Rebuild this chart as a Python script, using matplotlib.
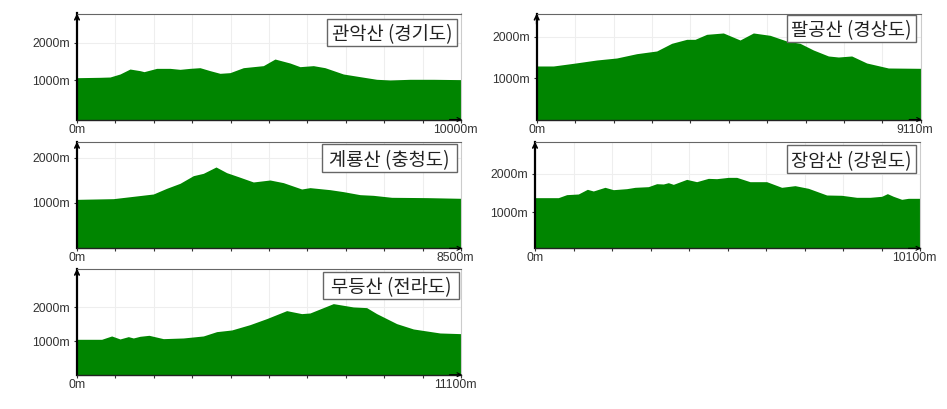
import numpy as np
import matplotlib
matplotlib.use('Agg')
import matplotlib.pyplot as plt
from matplotlib.patches import Rectangle
from matplotlib.transforms import ScaledTranslation

plt.rcParams['font.family'] = ['Liberation Sans', 'DejaVu Sans']

W, H = 947, 409

gwanak_x = [0, 599, 859, 1120, 1380, 1641, 1745, 2075, 2422, 2682, 2943, 3203, 3464, 3724, 3984, 4332,
            4852, 5156, 5547, 5807, 6155, 6458, 6936, 7370, 7804, 8151, 8672, 9280, 10000]
gwanak_y = [1070, 1080, 1088, 1168, 1300, 1257, 1230, 1318, 1318, 1292, 1318, 1336, 1257, 1186, 1204, 1336,
            1390, 1566, 1460, 1363, 1390, 1336, 1168, 1097, 1027, 1009, 1027, 1027, 1018]

palgong_x = [0, 395, 870, 1423, 1898, 2372, 2847, 3203, 3559, 3756, 4033, 4428, 4824, 5140, 5536, 5931,
             6247, 6564, 6920, 7157, 7473, 7829, 8343, 9110]
palgong_y = [1293, 1293, 1358, 1439, 1488, 1593, 1659, 1846, 1943, 1943, 2065, 2098, 1927, 2098, 2041, 1902,
             1846, 1683, 1537, 1512, 1537, 1366, 1244, 1236]

gyeryong_x = [0, 804, 1247, 1690, 1985, 2280, 2575, 2796, 3077, 3313, 3571, 3903, 4272, 4567, 4973, 5157,
              5600, 5895, 6264, 6559, 6965, 7739, 8500]
gyeryong_y = [1081, 1096, 1148, 1200, 1326, 1437, 1607, 1659, 1800, 1674, 1585, 1467, 1511, 1452, 1311, 1341,
              1296, 1252, 1185, 1170, 1126, 1119, 1104]

jangam_x = [0, 612, 831, 1137, 1373, 1530, 1836, 2055, 2405, 2624, 2973, 3192, 3367, 3498, 3629, 3979, 4241,
            4547, 4766, 5072, 5291, 5640, 6078, 6471, 6821, 7171, 7652, 8045, 8439, 8789, 9095, 9244, 9401,
            9620, 9794, 10100]
jangam_y = [1379, 1379, 1457, 1474, 1595, 1552, 1647, 1586, 1612, 1647, 1664, 1741, 1733, 1767, 1724, 1853, 1793,
            1879, 1871, 1905, 1905, 1793, 1793, 1647, 1690, 1621, 1448, 1440, 1388, 1388, 1414, 1483, 1414,
            1336, 1362, 1362]

mudeung_x = [0, 713, 1002, 1243, 1484, 1628, 1821, 2081, 2495, 3074, 3652, 4037, 4471, 5000, 5482, 6060,
             6494, 6735, 7409, 7987, 8373, 8662, 9240, 9722, 10107, 10492, 11100]
mudeung_y = [1059, 1059, 1157, 1069, 1137, 1098, 1147, 1176, 1078, 1098, 1157, 1284, 1333, 1490, 1667, 1902,
             1814, 1833, 2108, 2010, 1990, 1814, 1520, 1363, 1304, 1245, 1225]

titles = ['관악산 (경기도)', '팔공산 (경상도)', '계룡산 (충청도)', '장암산 (강원도)', '무등산 (전라도)']
series_x = [gwanak_x, palgong_x, gyeryong_x, jangam_x, mudeung_x]
series_y = [gwanak_y, palgong_y, gyeryong_y, jangam_y, mudeung_y]
distance = [10000, 9110, 8500, 10100, 11100]
y_ticks = [1000, 2000]
y_ticklabels = ['1000m', '2000m']

# pixel box of each panel: left, right, top, bottom, and its elevation range
boxes = [(77, 461, 13.5, 119.5), (536.7, 920.7, 13.5, 119.5), (77, 461, 141.7, 248.3),
         (535, 920, 141.7, 248.3), (77, 461, 268.7, 374.7)]
y_ranges = [(-42, 2777), (-12, 2573), (-7, 2362), (67, 2829), (18, 3135)]
# label box in pixels: left, right, top, bottom
label_boxes = [(327, 457, 19, 46), (787, 916, 15, 42), (322, 457, 144, 172),
               (787, 916, 145, 173), (323, 459, 272, 299)]

fig = plt.figure(figsize=(W / 100, H / 100), dpi=100)
offset = ScaledTranslation(-6 / 100, 0, fig.dpi_scale_trans)

for i in range(5):
    l, r, t, b = boxes[i]
    ax = fig.add_axes([l / W, 1 - b / H, (r - l) / W, (b - t) / H])
    ax.fill_between(series_x[i], series_y[i], y_ranges[i][0], color='#008500', lw=0, zorder=2)
    ax.set_xlim(0, distance[i])
    ax.set_ylim(*y_ranges[i])

    xt = np.linspace(0, distance[i], 11)
    ax.set_xticks(xt)
    ax.set_xticklabels(['0m'] + [''] * 9 + [f'{distance[i]}m'])
    ax.set_yticks(y_ticks)
    ax.set_yticklabels(y_ticklabels)
    ax.tick_params(length=2.5, width=0.8, color='#333333', labelsize=8.8, labelcolor='#333333', pad=2.5)
    ax.tick_params(axis='x', pad=0.5)
    lab = ax.get_xticklabels()[-1]
    lab.set_transform(lab.get_transform() + offset)

    ax.grid(True, color='#eeeeee', lw=0.8)
    ax.set_axisbelow(True)
    ax.spines['top'].set_color('#666666')
    ax.spines['right'].set_color('#cccccc')
    ax.spines['left'].set_linewidth(1.6)
    ax.spines['left'].set_color('black')
    ax.spines['bottom'].set_linewidth(1.0)
    ax.spines['bottom'].set_color('#222222')
    for sp in ax.spines.values():
        sp.set_zorder(3)

    # axis arrow heads
    ax.annotate('', xy=(0, 1.0), xytext=(0, 0.9), xycoords='axes fraction',
                arrowprops=dict(arrowstyle='->', color='black', lw=1.2, mutation_scale=8,
                                shrinkA=0, shrinkB=0), zorder=5)
    ax.annotate('', xy=(1.003, 0), xytext=(0.97, 0), xycoords='axes fraction',
                arrowprops=dict(arrowstyle='->', color='black', lw=0.8, mutation_scale=7,
                                shrinkA=0, shrinkB=0), zorder=5)

    bl, br, bt, bb = label_boxes[i]
    fig.add_artist(Rectangle((bl / W, 1 - bb / H), (br - bl) / W, (bb - bt) / H, transform=fig.transFigure,
                             fc='white', ec='#666666', lw=1.0, zorder=9))
    fig.text((bl + br) / 2 / W, 1 - (bt + bb) / 2 / H, titles[i], ha='center', va='center_baseline',
             fontsize=13.5, color='#222222', family=['Noto Sans CJK KR', 'DejaVu Sans'], zorder=10)

fig.savefig('out.png', dpi=100)
